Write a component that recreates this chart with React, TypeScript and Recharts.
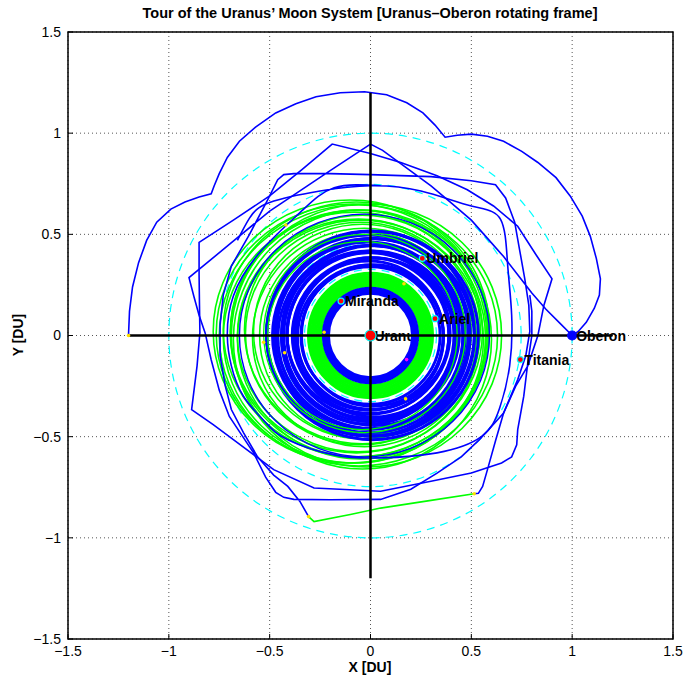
import {
  CartesianGrid,
  ComposedChart,
  Line,
  ReferenceArea,
  ReferenceLine,
  Scatter,
  XAxis,
  YAxis,
} from 'recharts';

type Pt = [number, number];
type Ring = [number, number, number, number]; // cx, cy, rx, ry  [DU]

const AXIS_TICKS = [-1.5, -1, -0.5, 0, 0.5, 1, 1.5];
const CROSS_HALF = 1.2;

// moon orbits (dashed cyan)
const orbitRadii = [0.223, 0.327, 0.456, 0.747, 1.0];

// dense spiral bands
const mirandaBand = [0.207, 0.214, 0.221, 0.228, 0.235];
const arielBand = [0.245, 0.253, 0.261, 0.269, 0.277, 0.285, 0.293, 0.301, 0.309];
const umbrielBand: Ring[] = [
  [0.0, 0.0, 0.345, 0.34],
  [0.01, 0.0, 0.352, 0.35],
  [0.0, -0.01, 0.362, 0.358],
  [-0.01, 0.0, 0.37, 0.368],
  [0.01, 0.01, 0.379, 0.375],
  [0.0, 0.0, 0.388, 0.384],
  [0.02, -0.01, 0.396, 0.392],
  [-0.01, 0.01, 0.405, 0.4],
  [0.0, 0.0, 0.414, 0.41],
  [0.01, 0.0, 0.423, 0.418],
  [-0.01, -0.01, 0.432, 0.428],
  [0.0, 0.01, 0.441, 0.436],
  [0.02, 0.0, 0.45, 0.445],
  [0.0, -0.01, 0.459, 0.454],
  [-0.01, 0.0, 0.468, 0.462],
  [0.01, 0.01, 0.477, 0.47],
  [0.0, 0.0, 0.486, 0.48],
  [0.02, -0.01, 0.495, 0.488],
  [-0.01, 0.0, 0.505, 0.497],
  [0.0, 0.01, 0.515, 0.507],
  [0.01, 0.0, 0.525, 0.515],
];
const greenOuter: Ring[] = [
  [-0.02, 0.01, 0.5, 0.5],
  [-0.03, 0.0, 0.52, 0.51],
  [-0.04, 0.02, 0.54, 0.53],
  [-0.03, -0.01, 0.555, 0.54],
  [-0.05, 0.01, 0.57, 0.55],
  [-0.04, 0.03, 0.585, 0.565],
  [-0.06, 0.0, 0.6, 0.575],
  [-0.05, -0.02, 0.61, 0.59],
  [-0.07, 0.02, 0.625, 0.6],
  [-0.06, 0.01, 0.635, 0.61],
  [-0.08, -0.01, 0.65, 0.62],
  [-0.07, 0.03, 0.66, 0.63],
  [-0.09, 0.01, 0.675, 0.64],
  [-0.06, 0.0, 0.69, 0.645],
  [-0.1, 0.02, 0.68, 0.65],
  [-0.02, 0.0, 0.67, 0.65],
  [-0.04, -0.02, 0.64, 0.64],
];
const greenInBand: Ring[] = [
  [-0.03, 0.01, 0.5, 0.49],
  [-0.04, 0.0, 0.47, 0.465],
];
const blueLoops: Ring[] = [[-0.03, 0.0, 0.62, 0.6]];

// transfer legs
const legArrival: Pt[] = [
  [-1.2, 0.0], [-1.195, 0.12], [-1.18, 0.24], [-1.15, 0.36], [-1.11, 0.47], [-1.06, 0.56],
  [-0.99, 0.625], [-0.92, 0.66], [-0.85, 0.685], [-0.79, 0.7], [-0.775, 0.74], [-0.75, 0.8],
  [-0.71, 0.88], [-0.65, 0.96], [-0.57, 1.03], [-0.47, 1.1], [-0.37, 1.145], [-0.27, 1.18],
  [-0.15, 1.2], [-0.03, 1.205], [0.08, 1.19], [0.18, 1.15], [0.26, 1.1], [0.32, 1.04],
  [0.37, 0.98], [0.43, 0.99], [0.5, 0.995], [0.58, 0.985], [0.66, 0.96], [0.75, 0.91],
  [0.83, 0.855], [0.92, 0.78], [0.99, 0.69], [1.05, 0.59], [1.09, 0.49], [1.12, 0.38],
  [1.14, 0.28], [1.135, 0.2], [1.11, 0.135], [1.07, 0.065], [1.03, 0.02], [1.0, 0.0],
];
const legOberon: Pt[] = [
  [1.0, 0.0], [0.94, 0.06], [0.87, 0.13], [0.8, 0.21], [0.73, 0.3], [0.66, 0.39], [0.58, 0.48],
  [0.5, 0.57], [0.4, 0.655], [0.3, 0.74], [0.17, 0.835], [0.06, 0.915], [0.0, 0.946],
  [-0.07, 0.9], [-0.2, 0.815], [-0.35, 0.715], [-0.5, 0.615], [-0.7, 0.45], [-0.9, 0.286],
  [-0.875, 0.19], [-0.85, 0.1], [-0.82, 0.013], [-0.79, -0.12], [-0.75, -0.27], [-0.7, -0.4],
  [-0.64, -0.49], [-0.58, -0.58], [-0.52, -0.7], [-0.47, -0.775], [-0.43, -0.8], [-0.38, -0.81],
  [-0.2, -0.812], [0.05, -0.81], [0.2, -0.76], [0.33, -0.68], [0.45, -0.6], [0.54, -0.515],
  [0.6, -0.45], [0.66, -0.383], [0.73, -0.218], [0.77, -0.1], [0.79, 0.02], [0.785, 0.15],
  [0.765, 0.28], [0.74, 0.42], [0.715, 0.56], [0.67, 0.68], [0.62, 0.745], [0.5, 0.765],
  [0.3, 0.785], [0.0, 0.795], [-0.2, 0.8], [-0.38, 0.8], [-0.43, 0.795], [-0.46, 0.77],
  [-0.51, 0.67], [-0.6, 0.5], [-0.69, 0.343], [-0.73, 0.2], [-0.746, 0.05], [-0.746, -0.1],
  [-0.72, -0.25], [-0.69, -0.366], [-0.63, -0.48], [-0.56, -0.6], [-0.48, -0.69],
  [-0.41, -0.746], [-0.35, -0.82], [-0.307, -0.895],
];
const legCoast: Pt[] = [
  [-0.307, -0.895], [-0.28, -0.92], [-0.1, -0.885], [0.05, -0.853], [0.3, -0.815], [0.514, -0.782],
];
const legReturn: Pt[] = [
  [0.514, -0.782], [0.535, -0.78], [0.556, -0.746], [0.58, -0.663], [0.62, -0.52], [0.66, -0.383],
  [0.72, -0.25], [0.78, -0.15], [0.83, 0.0], [0.86, 0.15], [0.9, 0.28], [0.82, 0.4], [0.73, 0.54],
  [0.61, 0.64], [0.48, 0.72], [0.33, 0.79], [0.15, 0.855], [0.0, 0.9], [-0.19, 0.946],
  [-0.34, 0.82], [-0.5, 0.69], [-0.68, 0.57], [-0.85, 0.46], [-0.85, 0.3], [-0.848, 0.15],
  [-0.846, 0.015], [-0.86, -0.15], [-0.887, -0.366], [-0.78, -0.44], [-0.68, -0.515],
  [-0.48, -0.663], [-0.28, -0.754], [0.05, -0.77], [0.3, -0.72], [0.5, -0.68], [0.65, -0.63],
  [0.7, -0.6], [0.725, -0.54], [0.73, -0.465], [0.76, -0.3], [0.78, -0.135], [0.8, 0.0],
  [0.8, 0.12], [0.79, 0.2],
];
const legInner: Pt[] = [
  [0.05, 0.74], [-0.18, 0.73], [-0.35, 0.607], [-0.55, 0.41], [-0.68, 0.195], [-0.71, 0.0],
  [-0.69, -0.15], [-0.63, -0.3], [-0.52, -0.43], [-0.41, -0.515], [-0.18, -0.59], [0.05, -0.605],
  [0.33, -0.58], [0.55, -0.5], [0.64, -0.36], [0.69, -0.15], [0.7, 0.1], [0.68, 0.35],
  [0.645, 0.574], [0.5, 0.64], [0.25, 0.714], [0.0, 0.74], [-0.25, 0.714], [-0.5, 0.657],
  [-0.6, 0.58], [-0.66, 0.47],
];

// bodies
const moonNames = ['Uranus', 'Miranda', 'Ariel', 'Umbriel', 'Titania', 'Oberon'];
const moonX = [0, -0.146, 0.32, 0.257, 0.743, 1.0];
const moonY = [0, 0.17, 0.083, 0.381, -0.119, 0];

// manoeuvre markers
const burnX = [-1.2, -0.307, 0.514, -0.42, -0.23, -0.53, -0.426, 0.166, 0.174];
const burnY = [0, -0.895, -0.782, 0.546, 0.016, -0.033, -0.085, 0.256, -0.313];
const flybyX = [0.179];
const flybyY = [-0.119];

const BLUE = '#0000ff';
const GREEN = '#00ff00';
const CYAN = '#00ffff';
const RED = '#ff0000';
const FONT = '"Liberation Sans", Arial, Helvetica, sans-serif';
const TICK_LEN = 5;

const toXY = (pts: Pt[]) => pts.map(([x, y]) => ({ x, y }));
const fmt = (v: number) => String(v).replace('-', '\u2212');

function ellipseShape(stroke: string, strokeWidth: number, dash?: string) {
  return function Ellipse(props: any) {
    const { x, y, width, height } = props;
    if (x == null || width == null) return <g />;
    return (
      <ellipse
        cx={x + width / 2}
        cy={y + height / 2}
        rx={Math.abs(width) / 2}
        ry={Math.abs(height) / 2}
        fill="none"
        stroke={stroke}
        strokeWidth={strokeWidth}
        strokeDasharray={dash}
      />
    );
  };
}

function rings(list: Ring[], key: string, stroke: string, width: number, dash?: string) {
  const shape = ellipseShape(stroke, width, dash);
  return list.map(([cx, cy, rx, ry], i) => (
    <ReferenceArea
      key={`${key}${i}`}
      x1={cx - rx}
      x2={cx + rx}
      y1={cy - ry}
      y2={cy + ry}
      ifOverflow="visible"
      shape={shape}
    />
  ));
}

const circles = (radii: number[]): Ring[] => radii.map((r) => [0, 0, r, r]);

// MATLAB style: ticks point into the box, labels outside
function BottomTick({ x, y, payload }: any) {
  return (
    <g>
      <line x1={x} x2={x} y1={y} y2={y - TICK_LEN} stroke="#000" />
      <text x={x} y={y + 7} dy="0.71em" textAnchor="middle" fontFamily={FONT} fontSize={14} fill="#000">
        {fmt(payload.value)}
      </text>
    </g>
  );
}
function LeftTick({ x, y, payload }: any) {
  return (
    <g>
      <line x1={x} x2={x + TICK_LEN} y1={y} y2={y} stroke="#000" />
      <text x={x - 7} y={y} dy="0.355em" textAnchor="end" fontFamily={FONT} fontSize={14} fill="#000">
        {fmt(payload.value)}
      </text>
    </g>
  );
}
function TopTick({ x, y }: any) {
  return <line x1={x} x2={x} y1={y} y2={y + TICK_LEN} stroke="#000" />;
}
function RightTick({ x, y }: any) {
  return <line x1={x} x2={x - TICK_LEN} y1={y} y2={y} stroke="#000" />;
}

function MoonMark(props: any) {
  const { cx, cy, payload } = props;
  const isOberon = payload.name === 'Oberon';
  const isUranus = payload.name === 'Uranus';
  return (
    <g>
      <circle
        cx={cx}
        cy={cy}
        r={isUranus ? 5.5 : isOberon ? 4.5 : 3}
        fill={isOberon ? BLUE : RED}
        stroke={isOberon ? BLUE : CYAN}
        strokeWidth={1.2}
      />
      {!isUranus && (
        <text x={cx + 4} y={cy} dominantBaseline="central" fontFamily={FONT} fontSize={14} fontWeight="bold" fill="#000">
          {payload.name}
        </text>
      )}
    </g>
  );
}

function UranusLabel(props: any) {
  const { cx, cy, payload } = props;
  return (
    <text x={cx + 4} y={cy} dominantBaseline="central" fontFamily={FONT} fontSize={14} fontWeight="bold" fill="#000">
      {payload.name}
    </text>
  );
}

function dotShape(fill: string) {
  return function Dot(props: any) {
    return <circle cx={props.cx} cy={props.cy} r={1.8} fill={fill} />;
  };
}

export default function App() {
  const moons = moonNames.map((name, i) => ({ name, x: moonX[i], y: moonY[i] }));
  const burns = burnX.map((x, i) => ({ x, y: burnY[i] }));
  const flybys = flybyX.map((x, i) => ({ x, y: flybyY[i] }));
  const axisCommon = {
    type: 'number' as const,
    domain: [-1.5, 1.5],
    ticks: AXIS_TICKS,
    allowDataOverflow: true,
    tickLine: false,
    axisLine: false,
    tickSize: 0,
    tickMargin: 0,
    interval: 0 as const,
  };

  return (
    <div style={{ position: 'absolute', left: 0, top: 0, width: 686, height: 677, background: '#fff', fontFamily: FONT }}>
      <div
        style={{
          position: 'absolute',
          left: 370,
          top: 5,
          transform: 'translateX(-50%)',
          whiteSpace: 'nowrap',
          fontWeight: 'bold',
          fontSize: 14.5,
        }}
      >
        Tour of the Uranus&#8217; Moon System [Uranus&#8211;Oberon rotating frame]
      </div>
      <div
        style={{
          position: 'absolute',
          left: 370,
          top: 659,
          transform: 'translateX(-50%)',
          whiteSpace: 'nowrap',
          fontWeight: 'bold',
          fontSize: 14,
        }}
      >
        X [DU]
      </div>
      <div
        style={{
          position: 'absolute',
          left: 18,
          top: 335,
          transform: 'translate(-50%, -50%) rotate(-90deg)',
          whiteSpace: 'nowrap',
          fontWeight: 'bold',
          fontSize: 14,
        }}
      >
        Y [DU]
      </div>
      <ComposedChart width={686} height={677} margin={{ top: 32, right: 13, bottom: 8, left: 8 }}>
        <CartesianGrid stroke="#555" strokeDasharray="1 3" />
        <XAxis {...axisCommon} dataKey="x" height={30} tick={BottomTick} />
        <XAxis {...axisCommon} xAxisId="top" orientation="top" dataKey="x" height={0} tick={TopTick} />
        <YAxis {...axisCommon} dataKey="y" width={60} tick={LeftTick} />
        <YAxis {...axisCommon} yAxisId="right" orientation="right" dataKey="y" width={0} tick={RightTick} />

        <Scatter data={moons.slice(0, 1)} shape={UranusLabel} isAnimationActive={false} zIndex={50} />

        {rings(circles(orbitRadii), 'orb', CYAN, 1.2, '8 6')}
        {rings(greenOuter, 'go', GREEN, 1.6)}
        {rings(blueLoops, 'bl', BLUE, 1.4)}
        {rings(umbrielBand, 'ub', BLUE, 2.9)}
        {rings(greenInBand, 'gi', GREEN, 1.3)}
        {rings(circles(arielBand), 'ar', GREEN, 2.4)}
        {rings(circles(mirandaBand), 'mi', BLUE, 2.4)}

        <ReferenceArea x1={-1.5} x2={1.5} y1={-1.5} y2={1.5} fill="none" fillOpacity={0} stroke="#000" strokeWidth={1.5} ifOverflow="visible" />

        <Line data={toXY(legArrival)} dataKey="y" type="linear" stroke={BLUE} strokeWidth={1.6} dot={false} isAnimationActive={false} />
        <Line data={toXY(legOberon)} dataKey="y" type="linear" stroke={BLUE} strokeWidth={1.6} dot={false} isAnimationActive={false} />
        <Line data={toXY(legReturn)} dataKey="y" type="linear" stroke={BLUE} strokeWidth={1.6} dot={false} isAnimationActive={false} />
        <Line data={toXY(legInner)} dataKey="y" type="natural" stroke={BLUE} strokeWidth={1.6} dot={false} isAnimationActive={false} />
        <Line data={toXY(legCoast)} dataKey="y" type="linear" stroke={GREEN} strokeWidth={1.6} dot={false} isAnimationActive={false} />

        <ReferenceLine segment={[{ x: -CROSS_HALF, y: 0 }, { x: CROSS_HALF, y: 0 }]} stroke="#000" strokeWidth={2.5} ifOverflow="visible" />
        <ReferenceLine segment={[{ x: 0, y: -CROSS_HALF }, { x: 0, y: CROSS_HALF }]} stroke="#000" strokeWidth={2.5} ifOverflow="visible" />

        <Scatter data={burns} shape={dotShape('#ffe000')} isAnimationActive={false} />
        <Scatter data={flybys} shape={dotShape('#ff00ff')} isAnimationActive={false} />
        <Scatter data={moons} shape={MoonMark} isAnimationActive={false} />
      </ComposedChart>
    </div>
  );
}
